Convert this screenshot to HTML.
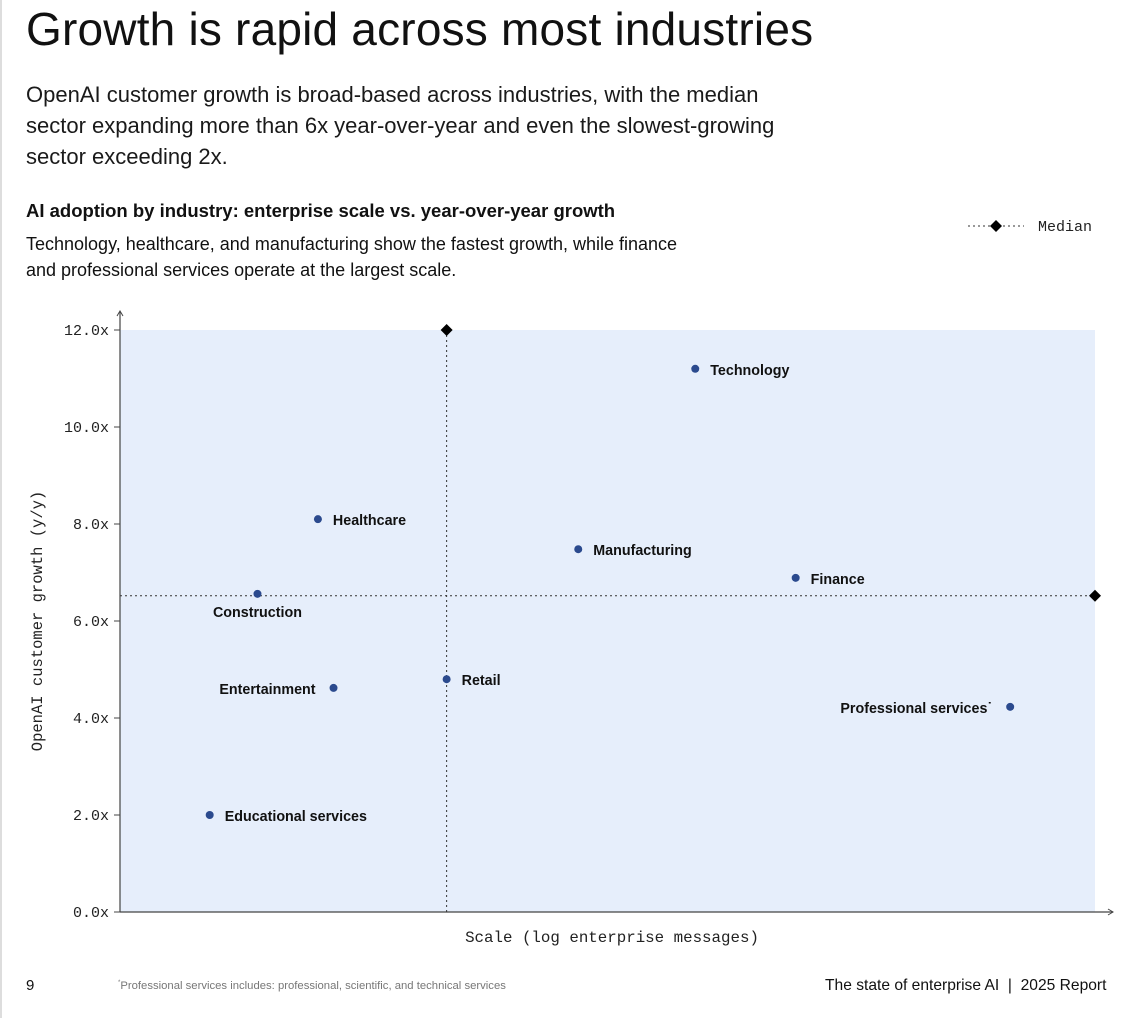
<!DOCTYPE html>
<html><head><meta charset="utf-8">
<style>
body{margin:0;width:1136px;height:1018px;background:#fff;font-family:"Liberation Sans",sans-serif;color:#111;position:relative;overflow:hidden}
.abs{position:absolute}
</style></head><body>
<div class="abs" style="left:0;top:0;width:2px;height:1018px;background:#ddd"></div>
<div class="abs" style="left:26px;top:2px;font-size:46px;color:#111;letter-spacing:0.2px">Growth is rapid across most industries</div>
<div class="abs" style="left:26px;top:79px;font-size:22px;line-height:31px;color:#1a1a1a;width:785px">OpenAI customer growth is broad-based across industries, with the median sector expanding more than 6x year-over-year and even the slowest-growing sector exceeding 2x.</div>
<div class="abs" style="left:26px;top:200px;font-size:18.5px;font-weight:bold">AI adoption by industry: enterprise scale vs. year-over-year growth</div>
<div class="abs" style="left:26px;top:231px;font-size:18px;line-height:26px;width:670px">Technology, healthcare, and manufacturing show the fastest growth, while finance and professional services operate at the largest scale.</div>
<svg class="abs" style="left:0;top:0" width="1136" height="1018" id="chart"></svg>
<div class="abs" style="left:26px;top:977px;font-size:15px">9</div>
<div class="abs" style="left:118px;top:980px;font-size:11.3px;color:#777"><sup style="font-size:6px">*</sup>Professional services includes: professional, scientific, and technical services</div>
<div class="abs" style="left:825px;top:977px;font-size:15.6px">The state of enterprise AI &nbsp;|&nbsp; 2025 Report</div>
<script>
const industries=["Technology","Healthcare","Manufacturing","Finance","Construction","Retail","Entertainment","Professional services","Educational services"];
const scaleValues=[0.59,0.203,0.47,0.693,0.141,0.335,0.219,0.913,0.092];
const growthValues=[11.2,8.1,7.48,6.89,6.56,4.8,4.62,4.23,2.0];
const labelSide=["r","r","r","r","b","r","l","l","r"];
const yTicks=[0,2,4,6,8,10,12];
const yTickLabels=["0.0x","2.0x","4.0x","6.0x","8.0x","10.0x","12.0x"];
const medianScale=0.335;
const medianGrowth=6.52;
const X0=120,X1=1095,Y0=912,Y1=330;
const xs=v=>X0+v*(X1-X0);
const ys=v=>Y0-v/12*(Y0-Y1);
const svg=document.getElementById('chart');
const NS="http://www.w3.org/2000/svg";
function mk(t,a,txt){const e=document.createElementNS(NS,t);for(const k in a)e.setAttribute(k,a[k]);if(txt!=null)e.textContent=txt;svg.appendChild(e);return e;}
let e;
e=mk('rect',{x:X0,y:Y1,width:X1-X0,height:Y0-Y1,fill:'#e6eefb'});


e=mk('line',{x1:X0,y1:Y0,x2:X0,y2:312,stroke:'#444','stroke-width':1.2});


mk('path',{d:'M117 316 L120 311 L123 316',fill:'none',stroke:'#444'});
e=mk('line',{x1:X0,y1:Y0,x2:1113,y2:Y0,stroke:'#444','stroke-width':1.2});


mk('path',{d:'M1108 909 L1113 912 L1108 915',fill:'none',stroke:'#444'});
yTicks.forEach((t,i)=>{
  mk('line',{x1:X0-6,x2:X0,y1:ys(t),y2:ys(t),stroke:'#444'});
  e=mk('text',{x:X0-11,y:ys(t)+5,'text-anchor':'end','font-family':'Liberation Mono, monospace','font-size':15,fill:'#222'},yTickLabels[i]);
  
  
});
e=mk('text',{x:0,y:0,transform:'translate(42,621) rotate(-90)','text-anchor':'middle','font-family':'Liberation Mono, monospace','font-size':15.5,fill:'#222'},'OpenAI customer growth (y/y)');


e=mk('text',{x:612,y:942,'text-anchor':'middle','font-family':'Liberation Mono, monospace','font-size':15.8,fill:'#222'},'Scale (log enterprise messages)');


e=mk('line',{x1:xs(medianScale),x2:xs(medianScale),y1:Y1,y2:Y0,stroke:'#333','stroke-dasharray':'2,3'});


e=mk('line',{x1:X0,x2:X1,y1:ys(medianGrowth),y2:ys(medianGrowth),stroke:'#333','stroke-dasharray':'2,3'});


function diamond(cx,cy){return mk('path',{d:`M${cx} ${cy-6} L${cx+6} ${cy} L${cx} ${cy+6} L${cx-6} ${cy} Z`,fill:'#000'});}
e=diamond(xs(medianScale),Y1);


e=diamond(X1,ys(medianGrowth));


industries.forEach((n,i)=>{
  const cx=xs(scaleValues[i]),cy=ys(growthValues[i]);
  e=mk('circle',{cx:cx,cy:cy,r:4,fill:'#2b4a8e'});
  
  
  let a={'font-size':14.3,'font-weight':'bold',fill:'#111','font-family':'Liberation Sans, sans-serif'};
  if(labelSide[i]=='r'){a.x=cx+15;a.y=cy+6;}
  else if(labelSide[i]=='l'){a.x=cx-18;a.y=cy+6;a['text-anchor']='end';}
  else{a.x=cx;a.y=cy+23;a['text-anchor']='middle';}
  e=mk('text',a,n+(n=="Professional services"?"˙":""));
  
  
});
e=mk('line',{x1:968,x2:1024,y1:226,y2:226,stroke:'#333','stroke-dasharray':'2,3'});


e=diamond(996,226);


e=mk('text',{x:1038,y:231,'font-family':'Liberation Mono, monospace','font-size':15,fill:'#222'},'Median');


</script>
</body></html>
